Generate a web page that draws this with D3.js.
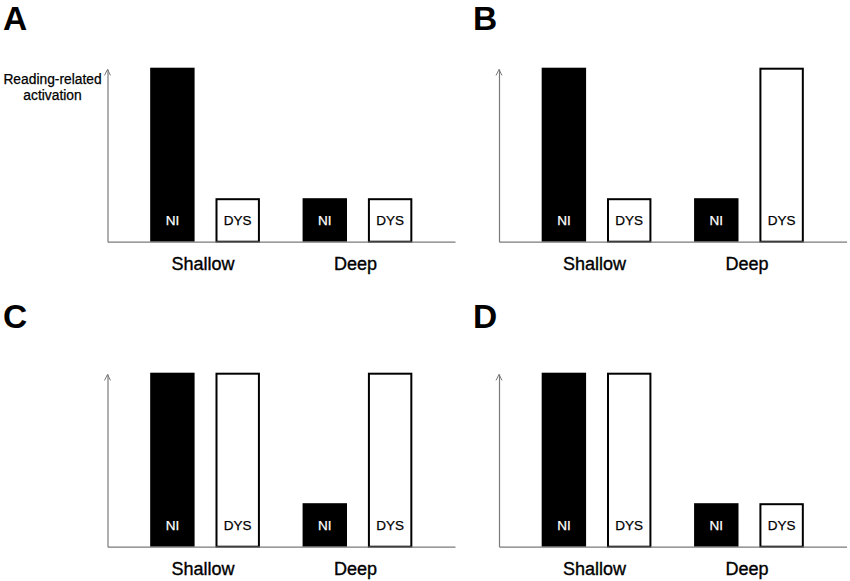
<!DOCTYPE html>
<html>
<head>
<meta charset="utf-8">
<script src="https://cdn.jsdelivr.net/npm/d3@7"></script>
<style>
  html, body { margin: 0; padding: 0; background: #fff; }
  svg { display: block; font-family: "Liberation Sans", Arial, Helvetica, sans-serif; }
</style>
</head>
<body>
<svg id="chart" width="850" height="581"></svg>
<script>
// ---- data ----
const panelLetters = ["A", "B", "C", "D"];
const categories = ["Shallow", "Deep"];
const groups = ["NI", "DYS"];
const yLabelLines = ["Reading-related", "activation"];
// values per panel: [Shallow, Deep]
const panelA_NI = [1, 0.25];
const panelA_DYS = [0.25, 0.25];
const panelB_NI = [1, 0.25];
const panelB_DYS = [0.25, 1];
const panelC_NI = [1, 0.25];
const panelC_DYS = [1, 1];
const panelD_NI = [1, 0.25];
const panelD_DYS = [1, 0.25];

const panelValues = [
  [panelA_NI, panelA_DYS],
  [panelB_NI, panelB_DYS],
  [panelC_NI, panelC_DYS],
  [panelD_NI, panelD_DYS]
];

// ---- layout ----
const FONT = "'Liberation Sans', Arial, Helvetica, sans-serif";
const svg = d3.select("#chart");
const origins = [
  { x: 107.5, y: 241.7, ly: 30 },
  { x: 499,   y: 241.7, ly: 30 },
  { x: 107.5, y: 546.7, ly: 328 },
  { x: 499,   y: 546.7, ly: 328 }
];
const axisLen = 347.5;
const barMaxH = 174;
const axisColor = "#7a7a7a";

panelLetters.forEach((letter, i) => {
  const o = origins[i];
  const [ni, dys] = panelValues[i];
  const rows = categories.map((c, k) => ({ cat: c, NI: ni[k], DYS: dys[k] }));

  const x = d3.scaleBand().domain(categories).range([0, axisLen]).padding(0.28);
  const xi = d3.scaleBand().domain(groups).range([0, x.bandwidth()]).paddingInner(0.32).paddingOuter(0);
  const y = d3.scaleLinear().domain([0, 1]).range([0, -barMaxH]);

  // panel letter
  svg.append("text")
    .attr("x", i % 2 === 0 ? 3 : 473)
    .attr("y", o.ly)
    .attr("font-family", FONT)
    .attr("font-size", 33.5)
    .attr("font-weight", "bold")
    .attr("fill", "#000")
    .text(letter);

  const g = svg.append("g").attr("transform", `translate(${o.x},${o.y})`);

  // bars
  const cg = g.selectAll("g.cat").data(rows).join("g")
    .attr("class", "cat")
    .attr("transform", d => `translate(${x(d.cat)},0)`);

  cg.selectAll("rect").data(d => groups.map(k => ({ key: k, v: d[k] }))).join("rect")
    .attr("x", d => d.key === "NI" ? xi(d.key) : xi(d.key) + 1)
    .attr("width", d => d.key === "NI" ? xi.bandwidth() : xi.bandwidth() - 2)
    .attr("y", d => d.key === "NI" ? y(d.v) : y(d.v) + 1)
    .attr("height", d => d.key === "NI" ? -y(d.v) : -y(d.v) - 1)
    .attr("fill", d => d.key === "NI" ? "#000" : "#fff")
    .attr("stroke", d => d.key === "NI" ? "none" : "#000")
    .attr("stroke-width", 2);

  cg.selectAll("text.bl").data(d => groups.map(k => ({ key: k, v: d[k] }))).join("text")
    .attr("class", "bl")
    .attr("x", d => xi(d.key) + xi.bandwidth() / 2)
    .attr("y", -16.5)
    .attr("text-anchor", "middle")
    .attr("font-family", FONT)
    .attr("font-size", 13.5)
    .attr("fill", d => d.key === "NI" ? "#fff" : "#000")
    .attr("stroke", d => d.key === "NI" ? "#fff" : "#000")
    .attr("stroke-width", 0.25)
    .text(d => d.key);

  // x axis
  const xAxis = g.append("g")
    .call(d3.axisBottom(x).tickSize(0).tickSizeOuter(0).tickPadding(16));
  xAxis.select(".domain").attr("stroke", axisColor).attr("stroke-width", 1.2);
  xAxis.selectAll(".tick text")
    .attr("font-size", 18)
    .attr("font-family", FONT)
    .attr("fill", "#000")
    .attr("stroke", "#000")
    .attr("stroke-width", 0.35)
    .attr("dx", -2);

  // y axis with arrow
  const yAxis = g.append("g")
    .call(d3.axisLeft(y.copy().domain([0, 0.993]).range([0, -barMaxH * 0.993])).ticks(0).tickSizeOuter(0));
  yAxis.select(".domain").attr("stroke", axisColor).attr("stroke-width", 1.2);
  const top = y(0.993) + 0.5;
  g.append("path")
    .attr("d", `M-3,${top + 6}L0,${top}L3,${top + 6}`)
    .attr("fill", "none")
    .attr("stroke", axisColor)
    .attr("stroke-width", 1);

  // y label (panel A only)
  if (i === 0) {
    svg.append("text")
      .attr("x", 52.5)
      .attr("text-anchor", "middle")
      .attr("font-family", FONT)
      .attr("font-size", 13.8)
      .attr("fill", "#000")
      .attr("stroke", "#000")
      .attr("stroke-width", 0.25)
      .selectAll("tspan").data(yLabelLines).join("tspan")
      .attr("x", 52.5)
      .attr("y", (d, k) => 84 + k * 16)
      .text(d => d);
  }
});
</script>
</body>
</html>
